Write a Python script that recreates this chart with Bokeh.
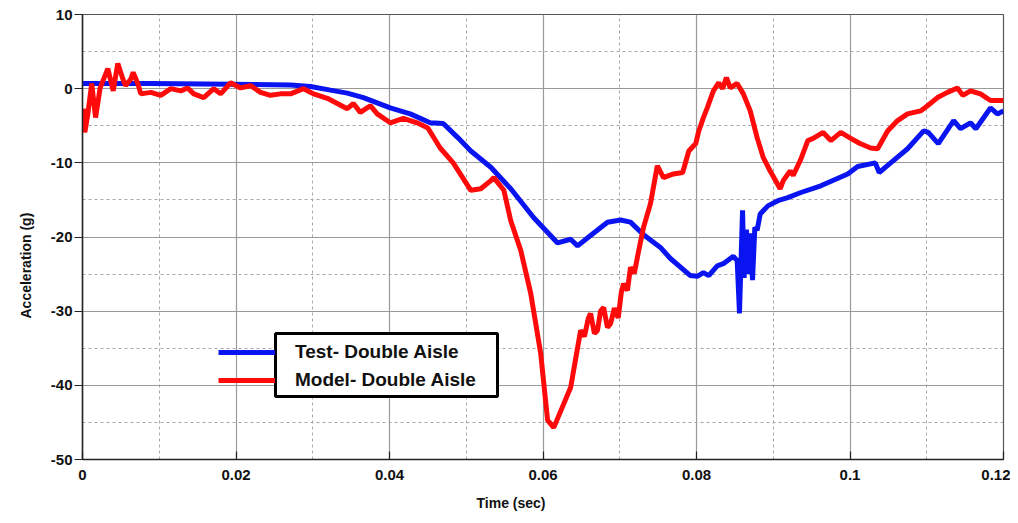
from bokeh.plotting import figure
from bokeh.models import FixedTicker, Range1d, Legend, LegendItem, BoxAnnotation, Title
from bokeh.embed import file_html
from bokeh.resources import INLINE

# ---- data ----
test_t = [0.0000, 0.0089, 0.0193, 0.0271, 0.0297, 0.0323, 0.0345, 0.0366, 0.0401, 0.0427, 0.0453,
          0.0470, 0.0489, 0.0506, 0.0532, 0.0558, 0.0588, 0.0619, 0.0636, 0.0645, 0.0662,
          0.0684, 0.0701, 0.0714, 0.0731, 0.0753, 0.0766, 0.0792, 0.0801, 0.0809, 0.0816,
          0.0827, 0.0835, 0.0848, 0.0853, 0.0856, 0.0860, 0.0862, 0.0865, 0.0868, 0.0870,
          0.0873, 0.0876, 0.0879, 0.0883, 0.0893, 0.0906, 0.0919, 0.0936, 0.0962, 0.0997,
          0.1010, 0.1033, 0.1038, 0.1053, 0.1075, 0.1096, 0.1102, 0.1115, 0.1135, 0.1144,
          0.1157, 0.1164, 0.1183, 0.1192, 0.1200]
test_g = [0.7, 0.7, 0.6, 0.5, 0.3, -0.2, -0.6, -1.2, -2.6, -3.4, -4.6,
          -4.7, -6.6, -8.4, -10.6, -13.5, -17.4, -20.8, -20.3, -21.2, -19.8,
          -18.0, -17.7, -18.0, -19.7, -21.4, -22.9, -25.2, -25.3, -24.8, -25.2,
          -23.9, -23.6, -22.6, -23.2, -30.3, -16.4, -25.5, -19.0, -25.0, -19.5,
          -25.8, -18.7, -19.1, -16.9, -15.8, -15.1, -14.7, -14.0, -13.1, -11.5,
          -10.5, -10.0, -11.3, -10.0, -8.1, -5.7, -5.9, -7.4, -4.3, -5.4,
          -4.6, -5.4, -2.6, -3.4, -3.0]

model_t = [0.0001, 0.0003, 0.0007, 0.0012, 0.0017, 0.0023, 0.0033, 0.0040, 0.0046, 0.0052,
           0.0056, 0.0063, 0.0066, 0.0072, 0.0076, 0.0089, 0.0102, 0.0115, 0.0128, 0.0137,
           0.0145, 0.0158, 0.0171, 0.0180, 0.0193, 0.0206, 0.0219, 0.0232, 0.0245, 0.0258,
           0.0271, 0.0288, 0.0301, 0.0319, 0.0332, 0.0345, 0.0353, 0.0362, 0.0375, 0.0384,
           0.0401, 0.0418, 0.0436, 0.0450, 0.0466, 0.0483, 0.0506, 0.0519, 0.0532, 0.0536,
           0.0549, 0.0558, 0.0571, 0.0584, 0.0597, 0.0606, 0.0614, 0.0627, 0.0636, 0.0649,
           0.0654, 0.0659, 0.0662, 0.0667, 0.0671, 0.0675, 0.0679, 0.0684, 0.0688, 0.0693,
           0.0698, 0.0702, 0.0705, 0.0710, 0.0714, 0.0719, 0.0724, 0.0731, 0.0740,
           0.0749, 0.0757, 0.0770, 0.0782, 0.0790, 0.0799, 0.0803, 0.0809, 0.0814, 0.0822,
           0.0829, 0.0834, 0.0839, 0.0844, 0.0853, 0.0861, 0.0870, 0.0879, 0.0887, 0.0896,
           0.0909, 0.0913, 0.0922, 0.0926, 0.0936, 0.0945, 0.0952, 0.0965, 0.0975, 0.0988,
           0.1001, 0.1013, 0.1027, 0.1036, 0.1049, 0.1062, 0.1075, 0.1092, 0.1101, 0.1114,
           0.1127, 0.1140, 0.1147, 0.1157, 0.1170, 0.1183, 0.1200]
model_g = [-2.7, -5.9, -3.4, 0.7, -3.9, 0.1, 2.7, -0.3, 3.4, 1.5,
           0.4, 1.3, 2.2, 0.7, -0.7, -0.5, -0.9, 0.0, -0.3, 0.1,
           -0.7, -1.2, 0.0, -0.7, 0.8, 0.1, 0.4, -0.5, -0.9, -0.7,
           -0.7, 0.0, -0.7, -1.3, -2.0, -2.7, -2.0, -3.2, -2.3, -3.4,
           -4.6, -4.0, -4.6, -5.3, -8.0, -10.0, -13.7, -13.5, -12.4, -12.0,
           -13.7, -17.8, -21.8, -27.6, -35.7, -44.7, -45.7, -42.5, -40.3, -32.6,
           -33.4, -31.0, -30.3, -33.0, -32.6, -30.0, -29.5, -32.2, -31.7, -29.6,
           -30.9, -27.5, -26.3, -27.2, -24.1, -24.9, -22.2, -18.7, -15.5,
           -10.4, -12.0, -11.5, -11.3, -8.4, -7.4, -5.7, -3.9, -2.6, -0.3,
           0.8, 0.0, 1.5, 0.1, 0.7, -0.7, -3.0, -6.6, -9.3, -11.1,
           -13.5, -12.4, -11.1, -11.7, -9.5, -7.0, -6.7, -5.9, -7.0, -5.9,
           -6.7, -7.4, -8.0, -8.1, -5.7, -4.3, -3.4, -3.0, -2.3, -1.2,
           -0.5, 0.1, -0.9, -0.3, -0.7, -1.6, -1.6]

x_ticks = [0, 0.02, 0.04, 0.06, 0.08, 0.1, 0.12]
x_tick_labels = ["0", "0.02", "0.04", "0.06", "0.08", "0.1", "0.12"]
x_minor = [0.01, 0.03, 0.05, 0.07, 0.09, 0.11]
y_ticks = [-50, -40, -30, -20, -10, 0, 10]
y_tick_labels = ["-50", "-40", "-30", "-20", "-10", "0", "10"]
y_minor = [-45, -35, -25, -15, -5, 5]

series_names = ["Test- Double Aisle", "Model- Double Aisle"]
x_title = "Time (sec)"
y_title = "Acceleration (g)"

FONT = "Liberation Sans"

p = figure(width=1010, height=523, output_backend="svg", toolbar_location=None,
           x_range=Range1d(0, 0.12), y_range=Range1d(-50, 10),
           min_border_left=82, min_border_right=7, min_border_top=14, min_border_bottom=64)

p.background_fill_color = "white"
p.border_fill_color = "white"
p.outline_line_color = "#555555"
p.outline_line_width = 1.2

p.xaxis.ticker = FixedTicker(ticks=x_ticks, minor_ticks=x_minor)
p.yaxis.ticker = FixedTicker(ticks=y_ticks, minor_ticks=y_minor)
p.xaxis.major_label_overrides = {t: l for t, l in zip(x_ticks, x_tick_labels)}
p.yaxis.major_label_overrides = {t: l for t, l in zip(y_ticks, y_tick_labels)}

for ax in (p.xaxis[0], p.yaxis[0]):
    ax.axis_line_color = "#222222"
    ax.axis_line_width = 1.5
    ax.major_tick_line_color = "#222222"
    ax.major_tick_line_width = 1.2
    ax.minor_tick_line_color = None
    ax.major_label_text_font = FONT
    ax.major_label_text_font_style = "bold"
    ax.major_label_text_font_size = "15px"
    ax.major_label_text_color = "#111111"

p.xaxis.major_tick_in = 8
p.xaxis.major_tick_out = 0
p.xaxis.major_label_standoff = 6

p.yaxis.major_tick_in = 0
p.yaxis.major_tick_out = 8
p.yaxis.major_label_standoff = 2

for g in (p.xgrid[0], p.ygrid[0]):
    g.grid_line_color = "#9a9a9a"
    g.grid_line_width = 1.2
    g.minor_grid_line_color = "#a8a8a8"
    g.minor_grid_line_width = 1
    g.minor_grid_line_dash = "3 3"

r_test = p.line(test_t, test_g, line_color="#0a14f0", line_width=5)
r_model = p.line(model_t, model_g, line_color="#ff0a0a", line_width=5)

# axis titles (placed off-centre as in the reference)
p.add_layout(Title(text=x_title, align="left", offset=394, standoff=20,
                   text_font=FONT, text_font_style="bold", text_font_size="14px",
                   text_color="#111111"), "below")
p.add_layout(Title(text=y_title, align="left", offset=141, standoff=28,
                   text_font=FONT, text_font_style="bold", text_font_size="14px",
                   text_color="#111111"), "left")

box = BoxAnnotation(left=193, right=415, bottom=63, top=126,
                    left_units="screen", right_units="screen",
                    bottom_units="screen", top_units="screen",
                    fill_color="white", fill_alpha=1.0,
                    line_color="black", line_alpha=1.0, line_width=3)
p.add_layout(box)

legend = Legend(items=[LegendItem(label=series_names[0], renderers=[r_test]),
                       LegendItem(label=series_names[1], renderers=[r_model])],
                location=(136, 68), padding=0, margin=0, spacing=6,
                glyph_width=57, glyph_height=22, label_height=22, label_standoff=20,
                label_text_font=FONT, label_text_font_style="bold",
                label_text_font_size="19px", label_text_color="#111111",
                border_line_color=None, background_fill_alpha=0)
p.add_layout(legend, "center")

open("out.html", "w").write(file_html(p, INLINE))
